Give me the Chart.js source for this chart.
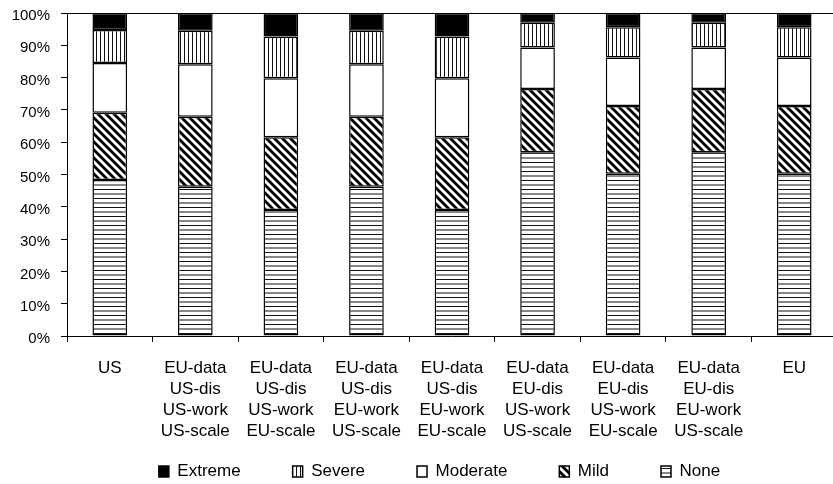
<!DOCTYPE html>
<html>
<head>
<meta charset="utf-8">
<script src="https://cdn.jsdelivr.net/npm/chart.js@4"></script>
<style>
html,body{margin:0;padding:0;overflow:hidden;background:#fff}
#wrap{width:838px;height:484px;position:relative}
</style>
</head>
<body>
<div id="wrap"><canvas id="c"></canvas></div>
<script>
// ---- data ----
const categories = [
  'US',
  ['EU-data','US-dis','US-work','US-scale'],
  ['EU-data','US-dis','US-work','EU-scale'],
  ['EU-data','US-dis','EU-work','US-scale'],
  ['EU-data','US-dis','EU-work','EU-scale'],
  ['EU-data','EU-dis','US-work','US-scale'],
  ['EU-data','EU-dis','US-work','EU-scale'],
  ['EU-data','EU-dis','EU-work','US-scale'],
  'EU'
];
const seriesNames = ['None','Mild','Moderate','Severe','Extreme'];
const noneVals     = [48.3, 46.2, 39.0, 46.2, 39.0, 56.9, 50.2, 56.9, 50.2];
const mildVals     = [20.8, 21.7, 22.5, 21.7, 22.5, 19.6, 21.0, 19.6, 21.0];
const moderateVals = [15.4, 16.2, 18.3, 16.2, 18.3, 12.8, 15.0, 12.8, 15.0];
const severeVals   = [10.2, 10.4, 12.9, 10.4, 12.9,  7.7,  9.4,  7.7,  9.4];
const extremeVals  = [ 5.3,  5.5,  7.3,  5.5,  7.3,  3.0,  4.4,  3.0,  4.4];
const yTickValues  = [0,10,20,30,40,50,60,70,80,90,100];

// ---- patterns ----
function makePattern(kind){
  const c = document.createElement('canvas');
  const x = c.getContext('2d');
  if(kind==='vertical'){
    c.width=4; c.height=4;
    x.fillStyle='#fff'; x.fillRect(0,0,4,4);
    x.fillStyle='#111'; x.fillRect(0,0,1,4);
  } else if(kind==='horizontal'){
    c.width=4; c.height=9;
    x.fillStyle='#fff'; x.fillRect(0,0,4,9);
    x.fillStyle='#111'; x.fillRect(0,0,4,1); x.fillRect(0,4.5,4,1);
  } else if(kind==='diagonal'){
    c.width=8; c.height=8;
    x.fillStyle='#fff'; x.fillRect(0,0,8,8);
    x.strokeStyle='#000'; x.lineWidth=2.8;
    for(const k of [-8,0,8]){
      x.beginPath(); x.moveTo(-2,-2+k); x.lineTo(10,10+k); x.stroke();
    }
  }
  return x.createPattern(c,'repeat');
}
const fills = {
  None: makePattern('horizontal'),
  Mild: makePattern('diagonal'),
  Moderate: '#ffffff',
  Severe: makePattern('vertical'),
  Extreme: '#000000'
};
const valuesBySeries = {None:noneVals, Mild:mildVals, Moderate:moderateVals, Severe:severeVals, Extreme:extremeVals};

const datasets = seriesNames.map(n => ({
  label: n,
  data: valuesBySeries[n],
  backgroundColor: fills[n],
  borderColor: '#000',
  borderWidth: 1.5,
  borderSkipped: false,
  barPercentage: 0.405,
  categoryPercentage: 1.0
}));

Chart.defaults.font.family = "'Liberation Sans', Arial, sans-serif";
Chart.defaults.color = '#000';

// move the legend row to where the reference has it
const legendShift = {
  id: 'legendShift',
  afterLayout(chart){
    const l = chart.legend;
    if(!l) return;
    l.left += 21; l.right += 21;
    l.top -= 33;
    l.bottom = chart.height;
    l.height = l.bottom - l.top;
  }
};

new Chart(document.getElementById('c'), {
  type: 'bar',
  data: { labels: categories, datasets },
  plugins: [legendShift],
  options: {
    responsive: true,
    maintainAspectRatio: false,
    animation: false,
    layout: { padding: { top: 13, left: 0, right: 1, bottom: 0 } },
    plugins: {
      tooltip: { enabled: false },
      legend: {
        position: 'bottom',
        reverse: true,
        maxHeight: 40,
        labels: {
          boxWidth: 10, boxHeight: 11, padding: 52,
          color: '#000',
          font: { size: 17 }
        }
      }
    },
    scales: {
      x: {
        stacked: true,
        grid: { offset: true, drawOnChartArea: false, tickLength: 6, tickColor: '#000', tickWidth: 1 },
        border: { color: '#000', width: 1 },
        ticks: {
          color: '#000', autoSkip: false, maxRotation: 0, padding: 16,
          font: { size: 17, lineHeight: 1.24 }
        },
        afterFit: s => { s.height = 108; }
      },
      y: {
        stacked: true, min: 0, max: 100,
        afterBuildTicks: s => { s.ticks = yTickValues.map(v => ({value: v})); },
        ticks: { color: '#000', padding: 11, labelOffset: 3, font: { size: 15 }, callback: v => v + '%' },
        grid: {
          color: ctx => (ctx.tick && ctx.tick.value === 100) ? '#000' : 'rgba(0,0,0,0)',
          tickColor: '#000', tickLength: 6, lineWidth: 1
        },
        border: { color: '#000', width: 1 },
        afterFit: s => { s.width = 67; s.paddingTop = 0; s.paddingBottom = 0; }
      }
    }
  }
});
</script>
</body>
</html>
